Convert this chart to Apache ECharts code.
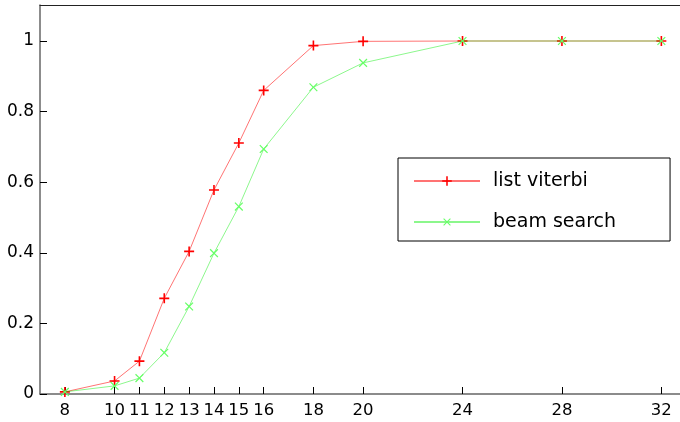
<!DOCTYPE html>
<html>
<head>
<meta charset="utf-8">
<script src="https://cdn.jsdelivr.net/npm/echarts@6/dist/echarts.min.js"></script>
<style>
  html, body { margin: 0; padding: 0; background: #fff; }
  #chart { width: 680px; height: 422px; }
</style>
</head>
<body>
<div id="chart"></div>
<script>
// Beam width on the x axis, fraction reached on the y axis
const beamWidths = [8, 10, 11, 12, 13, 14, 15, 16, 18, 20, 24, 28, 32];
const listViterbi = [0.006, 0.037, 0.093, 0.271, 0.404, 0.578, 0.711, 0.860, 0.987, 0.999, 1.0, 1.0, 1.0];
const beamSearch = [0.006, 0.023, 0.045, 0.117, 0.248, 0.399, 0.531, 0.694, 0.869, 0.938, 1.0, 1.0, 1.0];
const xTicks = [8, 10, 11, 12, 13, 14, 15, 16, 18, 20, 24, 28, 32];
const yTicks = [0, 0.2, 0.4, 0.6, 0.8, 1];

const FONT = 'DejaVu Sans';
const PLUS = 'path://M4.2,0H5.8V4.2H10V5.8H5.8V10H4.2V5.8H0V4.2H4.2Z';
const CROSS = 'path://M4.45,0H5.55V4.45H10V5.55H5.55V10H4.45V5.55H0V4.45H4.45Z';

const X_MIN = 7, X_MAX = 32.75;
const pairs = (ys) => beamWidths.map((x, i) => [x, ys[i]]);

const chart = echarts.init(document.getElementById('chart'), null, { renderer: 'canvas' });
chart.setOption({
  animation: false,
  backgroundColor: '#fff',
  grid: {
    left: 40, right: 0, top: 5, bottom: 28,
    show: false
  },
  xAxis: [
    {
      type: 'value', min: X_MIN, max: X_MAX,
      splitLine: { show: false },
      axisLine: { lineStyle: { color: '#666', width: 1.5 } },
      axisTick: { inside: true, length: 7, customValues: xTicks, lineStyle: { color: '#000' } },
      axisLabel: { customValues: xTicks, color: '#000', fontFamily: FONT, fontSize: 16.5, margin: 8 }
    },
    {
      // plain frame line along the top of the plot
      type: 'value', min: X_MIN, max: X_MAX, position: 'top',
      splitLine: { show: false },
      axisLine: { lineStyle: { color: '#222', width: 1 } },
      axisTick: { show: false },
      axisLabel: { show: false }
    }
  ],
  yAxis: {
    type: 'value', min: 0, max: 1.102,
    splitLine: { show: false },
    axisLine: { lineStyle: { color: '#666', width: 1.5 } },
    axisTick: { inside: true, length: 7, customValues: yTicks, lineStyle: { color: '#000' } },
    axisLabel: { customValues: yTicks, color: '#000', fontFamily: FONT, fontSize: 17, margin: 6 }
  },
  legend: {
    orient: 'vertical',
    left: 398, top: 158,
    padding: [13, 54, 9, 15],
    itemWidth: 66, itemHeight: 12, itemGap: 21,
    borderColor: '#000', borderWidth: 1,
    textStyle: { fontFamily: FONT, fontSize: 19, color: '#000', lineHeight: 20, padding: [0, 0, 0, 8] },
    data: ['list viterbi', 'beam search']
  },
  series: [
    {
      name: 'list viterbi', type: 'line', data: pairs(listViterbi),
      symbol: PLUS, symbolSize: 10, showAllSymbol: true,
      lineStyle: { color: '#ff0000', width: 1, opacity: 0.55 },
      itemStyle: { color: '#ff0000' },
      z: 2
    },
    {
      name: 'beam search', type: 'line', data: pairs(beamSearch),
      symbol: CROSS, symbolSize: 11, symbolRotate: 45, showAllSymbol: true,
      lineStyle: { color: '#00ee00', width: 1, opacity: 0.45 },
      itemStyle: { color: '#66ff66' },
      z: 3
    }
  ]
});
</script>
</body>
</html>
